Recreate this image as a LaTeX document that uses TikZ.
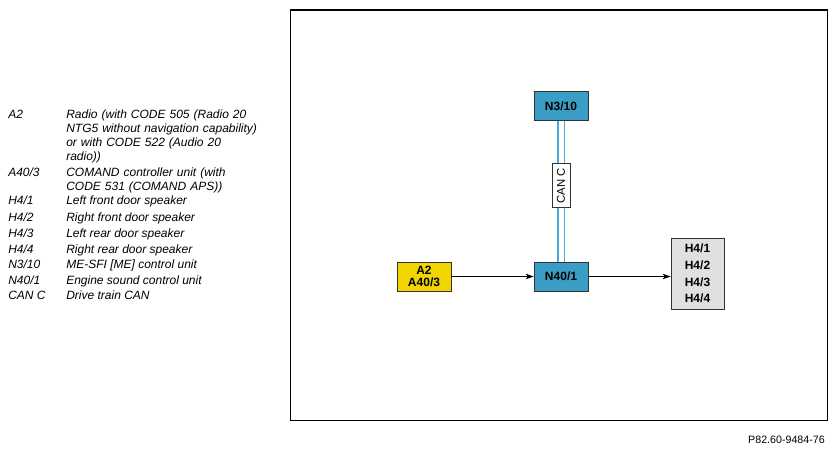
\documentclass[tikz,border=0pt]{standalone}
\usepackage{fontspec}
\setmainfont{Liberation Sans}
\usetikzlibrary{arrows.meta}
\definecolor{ecublue}{HTML}{3A9DC6}
\definecolor{canblue}{HTML}{4AA8D8}
\definecolor{radioyellow}{HTML}{F2D500}
\definecolor{spkgray}{HTML}{E0E0E0}

\begin{document}
\begin{tikzpicture}[x=0.75pt,y=-0.75pt,
			unit/.style={draw=black!80, thin, inner sep=0pt, align=center, minimum width=40.5pt, minimum height=22pt, font=\bfseries\fontsize{9}{9.4}\selectfont},
			code/.style={anchor=base west, inner sep=0pt, font=\itshape\fontsize{9}{10.7}\selectfont},
			desc/.style={code, text width=190pt, align=left},
			canbus/.style={draw=canblue, line width=1.1pt, double=white, double distance=3.75pt},
			sig/.style={black, line width=0.8pt, -{Stealth[length=6pt, width=4pt, inset=1.5pt]}}]
		\useasboundingbox (0,0) rectangle (836,451);
		% frame
		\draw [black, line width=0.9pt] (290.5,10) rectangle (827.5,420.5);
		% units
		\path 	(561,106) node 	(n310) [unit, fill=ecublue] {N3/10}
		        (561,276.5) node 	(n401) [unit, fill=ecublue] {N40/1}
		        (424,276.5) node 	(a2) [unit, fill=radioyellow] {A2\\A40/3}
		        (697.5,273.5) node 	(h4) [unit, fill=spkgray, minimum width=39.75pt, minimum height=53pt, font=\bfseries\fontsize{9}{12.5}\selectfont] {H4/1\\H4/2\\H4/3\\H4/4};
		\draw [canbus] (n310) -- (n401) node [pos=0.46, rotate=90, fill=white, draw=black!80, thin, inner sep=1pt, minimum width=33pt, minimum height=13.5pt, font=\fontsize{8.5}{10}\selectfont] (canc) {CAN C};
		\draw [sig] (a2) -- (n401);
		\draw [sig] (n401) -- (n401 -| h4.west);
		% legend
		\path 	(8,118) node (la2) [code] {A2}
		        (66,118) node (da2) [desc] {Radio (with CODE 505 (Radio 20\\NTG5 without navigation capability)\\or with CODE 522 (Audio 20\\radio))}
		        (8,176) node (la403) [code] {A40/3}
		        (66,176) node (da403) [desc] {COMAND controller unit (with\\CODE 531 (COMAND APS))}
		        (8,204) node (lh41) [code] {H4/1}
		        (66,204) node (dh41) [code] {Left front door speaker}
		        (8,221) node (lh42) [code] {H4/2}
		        (66,221) node (dh42) [code] {Right front door speaker}
		        (8,237) node (lh43) [code] {H4/3}
		        (66,237) node (dh43) [code] {Left rear door speaker}
		        (8,253) node (lh44) [code] {H4/4}
		        (66,253) node (dh44) [code] {Right rear door speaker}
		        (8,268) node (ln310) [code] {N3/10}
		        (66,268) node (dn310) [code] {ME-SFI [ME] control unit}
		        (8,284) node (ln401) [code] {N40/1}
		        (66,284) node (dn401) [code] {Engine sound control unit}
		        (8,299) node (lcanc) [code] {CAN C}
		        (66,299) node (dcanc) [code] {Drive train CAN};
		\path 	(825,443) node (ref) [anchor=base east, inner sep=0pt, font=\fontsize{8}{9.6}\selectfont] {P82.60-9484-76};
	\end{tikzpicture}
\end{document}
